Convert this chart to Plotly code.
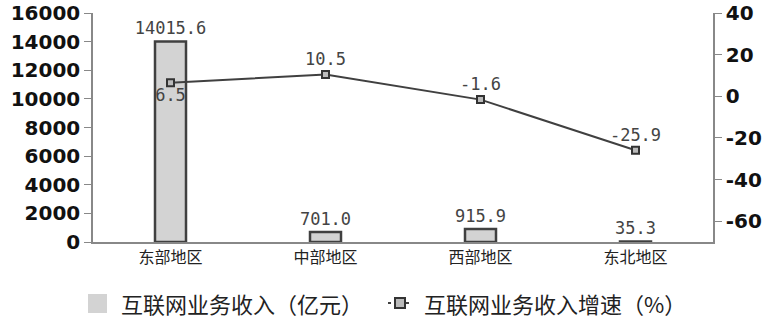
import plotly.graph_objects as go

categories = ["东部地区", "中部地区", "西部地区", "东北地区"]
revenue = [14015.6, 701.0, 915.9, 35.3]
growth = [6.5, 10.5, -1.6, -25.9]
left_ticks = [0, 2000, 4000, 6000, 8000, 10000, 12000, 14000, 16000]
right_ticks = [-60, -40, -20, 0, 20, 40]
legend_names = ["互联网业务收入（亿元）", "互联网业务收入增速（%）"]

DARK = "#404040"
FILL = "#d3d3d3"
tickfont = dict(family="DejaVu Sans", size=20, color="#111111", weight="bold")
labelfont = dict(family="DejaVu Sans Mono", size=17, color="#444444")

fig = go.Figure()
fig.add_trace(go.Bar(
    x=categories, y=revenue, name=legend_names[0],
    marker=dict(color=FILL, line=dict(color=DARK, width=2.5)),
    width=0.2,
    text=[f"{v:.1f}" for v in revenue], textposition="outside",
    textfont=labelfont, constraintext="none", textangle=0,
    cliponaxis=False, showlegend=False,
))
fig.add_trace(go.Scatter(
    x=categories, y=growth, name=legend_names[1], yaxis="y2",
    mode="lines+markers+text",
    line=dict(color=DARK, width=2),
    marker=dict(symbol="square", size=7, color="#bbbbbb", line=dict(color="#333333", width=2)),
    text=[f"{v:.1f}" for v in growth],
    textposition=["bottom center", "top center", "top center", "top center"],
    textfont=labelfont, cliponaxis=False, showlegend=False,
))

# Manual legend (plot area: x 93..713 px, y 13..242 px)
PW, PH, X0, Y0 = 620.0, 229.0, 93.0, 242.0
def px(x):
    return (x - X0) / PW
def py(y):
    return (Y0 - y) / PH

shapes = [
    dict(type="rect", xref="paper", yref="paper", x0=px(88), x1=px(107), y0=py(313), y1=py(294),
         fillcolor=FILL, line=dict(width=0)),
    dict(type="line", xref="paper", yref="paper", x0=px(388), x1=px(412), y0=py(303), y1=py(303),
         line=dict(color=DARK, width=2, dash="dot")),
    dict(type="rect", xref="paper", yref="paper", x0=px(395), x1=px(405), y0=py(308), y1=py(298),
         fillcolor="#bbbbbb", line=dict(color="#333333", width=2)),
]
annotations = [
    dict(text=legend_names[0], xref="paper", yref="paper", x=px(119), y=py(303),
         xanchor="left", yanchor="middle", showarrow=False,
         font=dict(family="Noto Sans CJK SC", size=22, color="#222222")),
    dict(text=legend_names[1], xref="paper", yref="paper", x=px(422), y=py(303),
         xanchor="left", yanchor="middle", showarrow=False,
         font=dict(family="Noto Sans CJK SC", size=22, color="#222222")),
]

fig.update_layout(
    width=768, height=322,
    margin=dict(l=93, r=55, t=13, b=80, autoexpand=False),
    plot_bgcolor="white", paper_bgcolor="white",
    showlegend=False,
    shapes=shapes, annotations=annotations,
    xaxis=dict(showline=True, linecolor="#888888", linewidth=1.5, ticks="",
               tickfont=dict(family="Noto Sans CJK SC", size=16, color="#222222"),
               showgrid=False, automargin=False),
    yaxis=dict(range=[0, 16000], tickvals=left_ticks, ticktext=[str(v) for v in left_ticks],
               showline=True, linecolor="#888888",
               linewidth=1.5, ticks="outside", ticklen=7, tickcolor="#888888",
               showgrid=False, zeroline=False, tickfont=tickfont, automargin=False),
    yaxis2=dict(range=[-70, 40], tickvals=right_ticks, ticktext=[str(v) for v in right_ticks],
                overlaying="y", side="right",
                showline=True, linecolor="#888888", linewidth=1.5, ticks="outside",
                ticklen=7, tickcolor="#888888", showgrid=False, zeroline=False,
                tickfont=tickfont, automargin=False),
)

fig.write_html("out.html")
